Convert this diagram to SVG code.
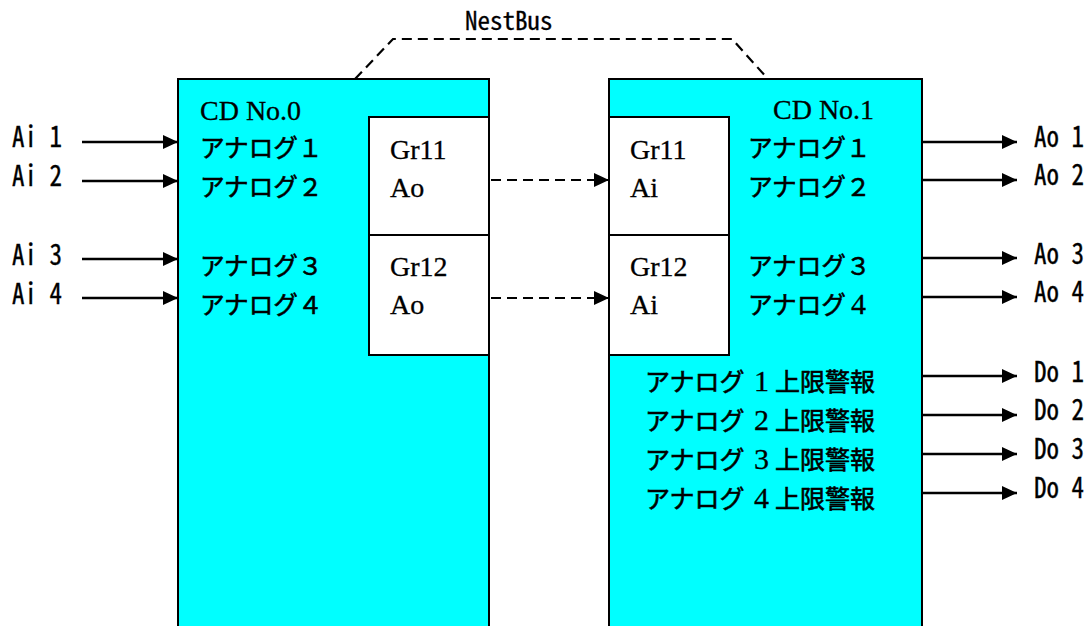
<svg xmlns="http://www.w3.org/2000/svg" width="1090" height="626" viewBox="0 0 1090 626">
<style>
.box{fill:#00FFFF;stroke:#000;stroke-width:2}
.grp{fill:#fff;stroke:#000;stroke-width:2}
.mono{font-family:"Noto Sans Mono CJK JP","Noto Sans CJK JP",monospace;font-size:25px;fill:#000;stroke:#000;stroke-width:0.3}
.serif{font-family:"Liberation Serif","Noto Sans CJK JP",serif;font-size:28px;fill:#000;stroke:#000;stroke-width:0.3}
.jp{font-family:"Noto Sans CJK JP","Noto Sans CJK SC",sans-serif;font-size:24.6px;fill:#000;stroke:#000;stroke-width:0.6}
.jp2{font-family:"Noto Sans CJK JP","Noto Sans CJK SC",sans-serif;font-size:25px;fill:#000;stroke:#000;stroke-width:0.6}
.ser{font-family:"Liberation Serif",serif;font-size:30px;stroke-width:0.3}
.ln{stroke:#000;stroke-width:2.3;fill:none}
.dash{stroke:#000;stroke-width:2.2;fill:none;stroke-dasharray:10 6}
</style>
<defs>
<marker id="ah" markerUnits="userSpaceOnUse" markerWidth="16" markerHeight="15" refX="15" refY="7" orient="auto">
<path d="M0,0 L15,7 L0,14 z" fill="#000"/>
</marker>
</defs>

<g id="nestbus">
<text class="mono" x="465" y="30">NestBus</text>
</g>

<g id="cd0">
<rect class="box" x="178" y="79" width="311" height="580"/>
<text class="serif" x="200" y="120">CD No.0</text>
<text class="jp" x="200" y="157">アナログ１</text>
<text class="jp" x="200" y="196">アナログ２</text>
<text class="jp" x="200" y="275">アナログ３</text>
<text class="jp" x="200" y="314">アナログ４</text>
</g>
<g id="cd0-gr11">
<rect class="grp" x="369" y="117" width="120" height="118"/>
<text class="serif" x="390" y="159">Gr11</text>
<text class="serif" x="390" y="197">Ao</text>
</g>
<g id="cd0-gr12">
<rect class="grp" x="369" y="235" width="120" height="120"/>
<text class="serif" x="390" y="276">Gr12</text>
<text class="serif" x="390" y="314">Ao</text>
</g>

<g id="cd1">
<rect class="box" x="609" y="79" width="313" height="580"/>
<text class="serif" x="773" y="119">CD No.1</text>
<text class="jp" x="748" y="157">アナログ１</text>
<text class="jp" x="748" y="196">アナログ２</text>
<text class="jp" x="748" y="275">アナログ３</text>
<text class="jp" x="748" y="314">アナログ<tspan class="ser" x="851">4</tspan></text>
<text class="jp2" x="645" y="391">アナログ<tspan class="ser" x="754">1</tspan><tspan x="775">上限警報</tspan></text>
<text class="jp2" x="645" y="430">アナログ<tspan class="ser" x="754">2</tspan><tspan x="775">上限警報</tspan></text>
<text class="jp2" x="645" y="469">アナログ<tspan class="ser" x="754">3</tspan><tspan x="775">上限警報</tspan></text>
<text class="jp2" x="645" y="508">アナログ<tspan class="ser" x="754">4</tspan><tspan x="775">上限警報</tspan></text>
</g>
<g id="cd1-gr11">
<rect class="grp" x="609" y="117" width="120" height="118"/>
<text class="serif" x="630" y="159">Gr11</text>
<text class="serif" x="630" y="197">Ai</text>
</g>
<g id="cd1-gr12">
<rect class="grp" x="609" y="235" width="120" height="120"/>
<text class="serif" x="630" y="276">Gr12</text>
<text class="serif" x="630" y="314">Ai</text>
</g>

<g id="inputs">
<text class="mono" transform="translate(12,147) scale(1,1.15)">Ai 1</text>
<text class="mono" transform="translate(12,186) scale(1,1.15)">Ai 2</text>
<text class="mono" transform="translate(12,265) scale(1,1.15)">Ai 3</text>
<text class="mono" transform="translate(12,304) scale(1,1.15)">Ai 4</text>
</g>
<g id="outputs">
<text class="mono" transform="translate(1034,147) scale(1,1.15)">Ao 1</text>
<text class="mono" transform="translate(1034,185) scale(1,1.15)">Ao 2</text>
<text class="mono" transform="translate(1034,264) scale(1,1.15)">Ao 3</text>
<text class="mono" transform="translate(1034,302) scale(1,1.15)">Ao 4</text>
<text class="mono" transform="translate(1034,382) scale(1,1.15)">Do 1</text>
<text class="mono" transform="translate(1034,420) scale(1,1.15)">Do 2</text>
<text class="mono" transform="translate(1034,459) scale(1,1.15)">Do 3</text>
<text class="mono" transform="translate(1034,498) scale(1,1.15)">Do 4</text>
</g>

<g id="connectors">
<polyline class="dash" points="355,79 393,39 732,39 768,79"/>
<line class="ln" x1="82" y1="142" x2="178" y2="142" marker-end="url(#ah)"/>
<line class="ln" x1="82" y1="181" x2="178" y2="181" marker-end="url(#ah)"/>
<line class="ln" x1="82" y1="259" x2="178" y2="259" marker-end="url(#ah)"/>
<line class="ln" x1="82" y1="298" x2="178" y2="298" marker-end="url(#ah)"/>
<line class="dash" x1="491" y1="180" x2="609" y2="180" marker-end="url(#ah)"/>
<line class="dash" x1="491" y1="298" x2="609" y2="298" marker-end="url(#ah)"/>
<line class="ln" x1="922" y1="142" x2="1017" y2="142" marker-end="url(#ah)"/>
<line class="ln" x1="922" y1="180" x2="1017" y2="180" marker-end="url(#ah)"/>
<line class="ln" x1="922" y1="258" x2="1017" y2="258" marker-end="url(#ah)"/>
<line class="ln" x1="922" y1="297" x2="1017" y2="297" marker-end="url(#ah)"/>
<line class="ln" x1="922" y1="376" x2="1017" y2="376" marker-end="url(#ah)"/>
<line class="ln" x1="922" y1="415" x2="1017" y2="415" marker-end="url(#ah)"/>
<line class="ln" x1="922" y1="454" x2="1017" y2="454" marker-end="url(#ah)"/>
<line class="ln" x1="922" y1="493" x2="1017" y2="493" marker-end="url(#ah)"/>
</g>
</svg>
